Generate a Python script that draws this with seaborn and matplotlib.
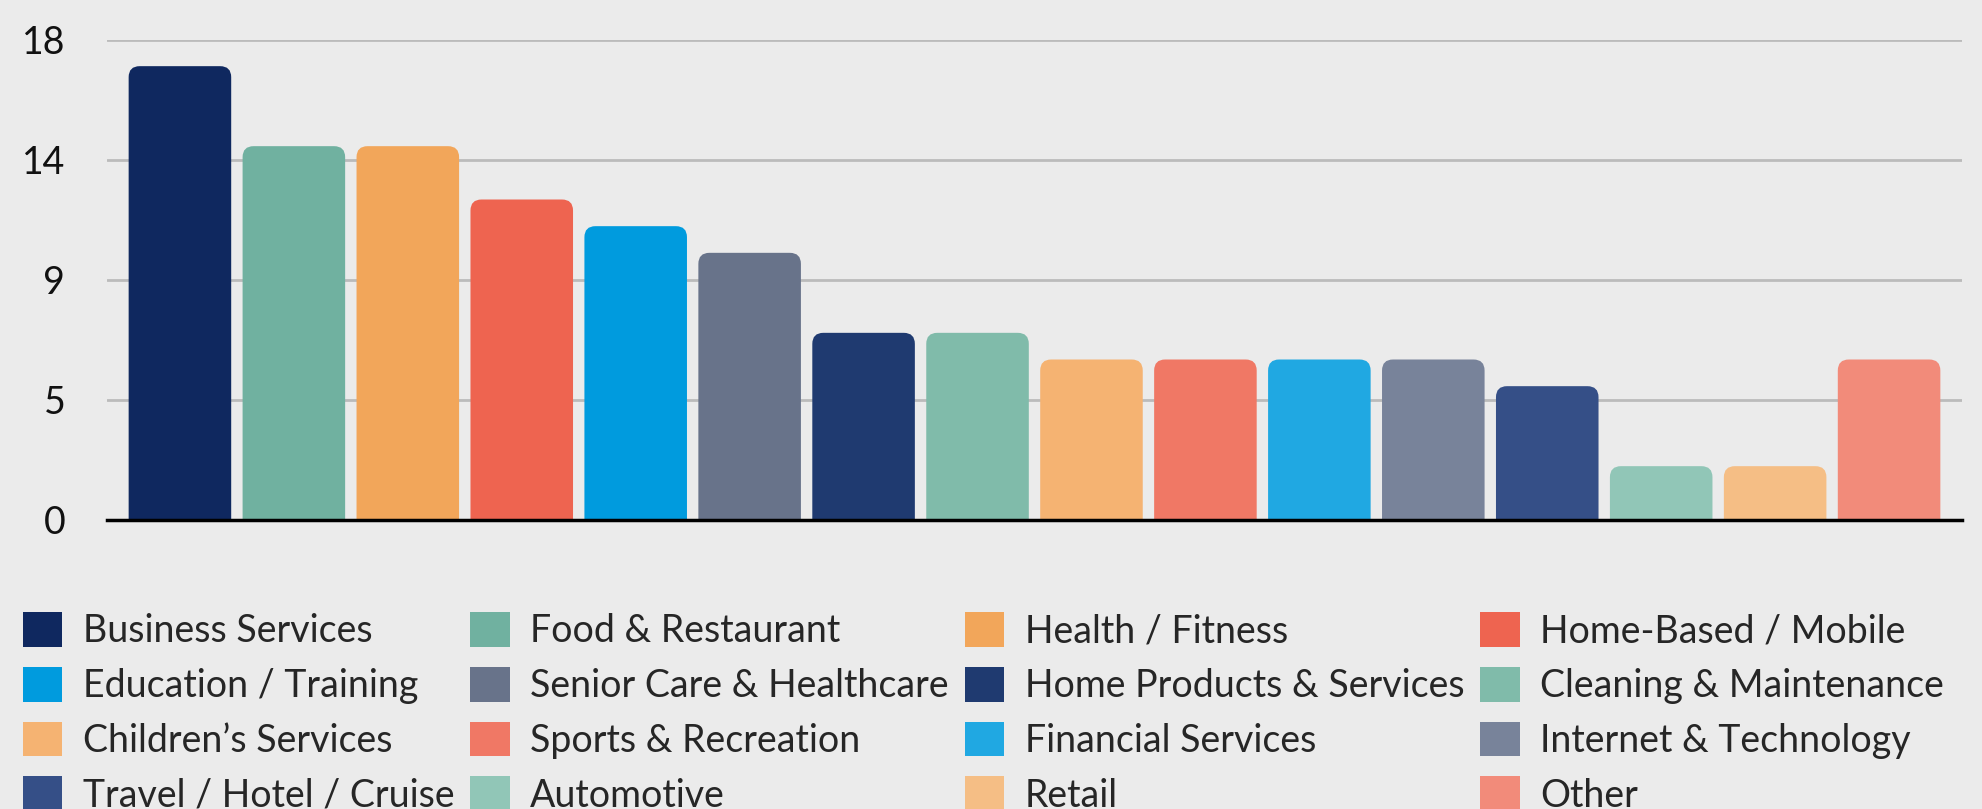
import matplotlib
matplotlib.use("Agg")
import matplotlib.pyplot as plt
from matplotlib.patches import FancyBboxPatch, Patch
import seaborn as sns
import pandas as pd

# Data
categories = ["Business Services", "Food & Restaurant", "Health / Fitness", "Home-Based / Mobile",
              "Education / Training", "Senior Care & Healthcare", "Home Products & Services",
              "Cleaning & Maintenance", "Children\u2019s Services", "Sports & Recreation",
              "Financial Services", "Internet & Technology", "Travel / Hotel / Cruise",
              "Automotive", "Retail", "Other"]
counts = [17, 14, 14, 12, 11, 10, 7, 7, 6, 6, 6, 6, 5, 2, 2, 6]
colors = ["#0F285F", "#70B1A0", "#F2A65A", "#EE6450", "#009BDE", "#68738A", "#1F3A70", "#80BBAA",
          "#F5B372", "#F07865", "#20A8E2", "#78839A", "#354F87", "#91C6B7", "#F5BE85", "#F28B7A"]
ytick_vals = [0, 4.5, 9, 13.5, 18]
ytick_labels = ["0", "5", "9", "14", "18"]

df = pd.DataFrame({"category": categories, "count": counts})

sns.set_style("white")
plt.rcParams["font.family"] = ["Lato", "DejaVu Sans"]
bg = "#EBEBEB"

fig = plt.figure(figsize=(19.83, 8.09), dpi=100, facecolor=bg)
ax = fig.add_axes([107 / 1983, 1 - 519.5 / 809, (1962 - 107) / 1983, 480 / 809])
ax.set_facecolor(bg)

sns.barplot(data=df, x="category", y="count", hue="category", palette=colors,
            width=0.9, legend=False, ax=ax, saturation=1)

ax.set_xlim(-0.64, 15.64)
ax.set_ylim(0, 18)

# swap plain rectangles for top-rounded ones
x_px = 1855 / 16.28
y_px = 480 / 18
for p in list(ax.patches):
    x, y, w, h = p.get_x(), p.get_y(), p.get_width(), p.get_height()
    fb = FancyBboxPatch((x, y - 1), w, h + 1,
                        boxstyle="round,pad=0,rounding_size=%f" % (11 / x_px),
                        mutation_aspect=x_px / y_px,
                        facecolor=p.get_facecolor(), edgecolor="none", zorder=2)
    p.remove()
    ax.add_patch(fb)

ax.set_yticks(ytick_vals)
ax.set_yticklabels(ytick_labels)
ax.set_xticks([])
ax.set_xlabel("")
ax.set_ylabel("")
ax.tick_params(axis="y", length=0, pad=30, labelsize=27, labelcolor="#111111")
ax.grid(axis="y", color="#BBBBBB", linewidth=2, zorder=0)
ax.set_axisbelow(True)
for s in ["top", "right", "left"]:
    ax.spines[s].set_visible(False)
ax.spines["bottom"].set_color("black")
ax.spines["bottom"].set_linewidth(2.5)
ax.spines["bottom"].set_zorder(3)

# legend laid out row by row, 4 columns
handles = [Patch(facecolor=c, edgecolor="none") for c in colors]
order = [r * 4 + c for c in range(4) for r in range(4)]
fig.legend([handles[i] for i in order], [categories[i] for i in order],
           loc="upper left", bbox_to_anchor=(23 / 1983, 1 - 612 / 809), ncol=4,
           frameon=False, fontsize=27, handlelength=1.05, handleheight=1.05,
           handletextpad=0.55, columnspacing=0.42, labelspacing=0.47,
           borderpad=0, borderaxespad=0)

fig.savefig("out.png", dpi=100, facecolor=bg)
